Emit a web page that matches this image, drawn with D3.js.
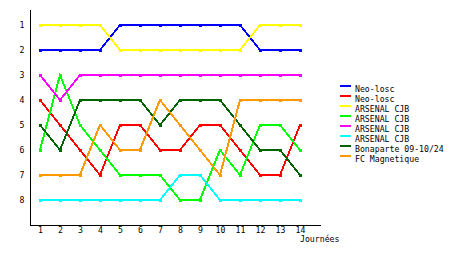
<!DOCTYPE html>
<html>
<head>
<meta charset="utf-8">
<script src="https://cdn.jsdelivr.net/npm/d3@7"></script>
<style>
  body { margin: 0; background: #fff; }
  text { font-family: "DejaVu Sans Mono", monospace; font-size: 8.2px; fill: #000; }
</style>
</head>
<body>
<div id="chart"></div>
<script>
/* journées on the x axis, ranks on the y axis */
const journees = [1, 2, 3, 4, 5, 6, 7, 8, 9, 10, 11, 12, 13, 14];
const ranks = [1, 2, 3, 4, 5, 6, 7, 8];

const team_names = ["Neo-losc", "Neo-losc", "ARSENAL CJB", "ARSENAL CJB", "ARSENAL CJB", "ARSENAL CJB", "Bonaparte 09-10/24", "FC Magnetique"];
const team_colors = ["#0000ff", "#ff0000", "#ffff00", "#00ff00", "#ff00ff", "#00ffff", "#006400", "#ff9900"];

const neo_losc_blue = [2, 2, 2, 2, 1, 1, 1, 1, 1, 1, 1, 2, 2, 2];
const neo_losc_red = [4, 5, 6, 7, 5, 5, 6, 6, 5, 5, 6, 7, 7, 5];
const arsenal_yellow = [1, 1, 1, 1, 2, 2, 2, 2, 2, 2, 2, 1, 1, 1];
const arsenal_green = [6, 3, 5, 6, 7, 7, 7, 8, 8, 6, 7, 5, 5, 6];
const arsenal_magenta = [3, 4, 3, 3, 3, 3, 3, 3, 3, 3, 3, 3, 3, 3];
const arsenal_cyan = [8, 8, 8, 8, 8, 8, 8, 7, 7, 8, 8, 8, 8, 8];
const bonaparte = [5, 6, 4, 4, 4, 4, 5, 4, 4, 4, 5, 6, 6, 7];
const fc_magnetique = [7, 7, 7, 5, 6, 6, 4, 5, 6, 7, 4, 4, 4, 4];

const all_series = [neo_losc_blue, neo_losc_red, arsenal_yellow, arsenal_green,
    arsenal_magenta, arsenal_cyan, bonaparte, fc_magnetique];

const width = 460, height = 255;

const svg = d3.select("#chart")
    .append("svg")
    .attr("width", width)
    .attr("height", height);

/* scales: journee 1 -> 40px, 14 -> 300px ; rank 1 -> 25px, 8 -> 200px */
const x = d3.scaleLinear().domain([1, 14]).range([40, 300]);
const y = d3.scaleLinear().domain([1, 8]).range([25, 200]);

/* axes drawn as plain lines, no tick marks */
const xAxis = svg.append("g")
    .attr("transform", "translate(0, 225.5)")
    .call(d3.axisBottom(x).tickValues(journees).tickSize(0).tickPadding(1.5).tickFormat(d3.format("d")));
xAxis.select(".domain").attr("d", "M30,0H321").attr("stroke", "#000");
xAxis.selectAll("text").attr("dy", "0.71em");

const yAxis = svg.append("g")
    .attr("transform", "translate(30.5, 0)")
    .call(d3.axisLeft(y).tickValues(ranks).tickSize(0).tickPadding(5).tickFormat(d3.format("d")));
yAxis.select(".domain").attr("d", "M0,10V226").attr("stroke", "#000");
yAxis.selectAll("text").attr("x", -6);

svg.selectAll(".tick text").style("font-family", "'DejaVu Sans Mono', monospace").style("font-size", "8.2px");

svg.append("text")
    .attr("x", 300)
    .attr("y", 242)
    .text("Journées");

const line = d3.line()
    .x((d, i) => x(journees[i]))
    .y(d => y(d));

all_series.forEach((series, k) => {
    const g = svg.append("g");
    g.append("path")
        .datum(series)
        .attr("d", line)
        .attr("fill", "none")
        .attr("stroke", team_colors[k])
        .attr("stroke-width", 2)
        .attr("shape-rendering", "crispEdges");
    g.selectAll("rect")
        .data(series)
        .join("rect")
        .attr("x", (d, i) => x(journees[i]) - 1.5)
        .attr("y", d => y(d) - 1.5)
        .attr("width", 3)
        .attr("height", 3)
        .attr("fill", team_colors[k])
        .attr("shape-rendering", "crispEdges");
});

/* legend */
const legend = svg.append("g").attr("transform", "translate(340, 86)");
team_names.forEach((name, k) => {
    legend.append("rect")
        .attr("x", 0)
        .attr("y", k * 10 - 1)
        .attr("width", 11)
        .attr("height", 2)
        .attr("fill", team_colors[k]);
    legend.append("text")
        .attr("x", 15)
        .attr("y", k * 10 + 6)
        .text(name);
});
</script>
</body>
</html>
